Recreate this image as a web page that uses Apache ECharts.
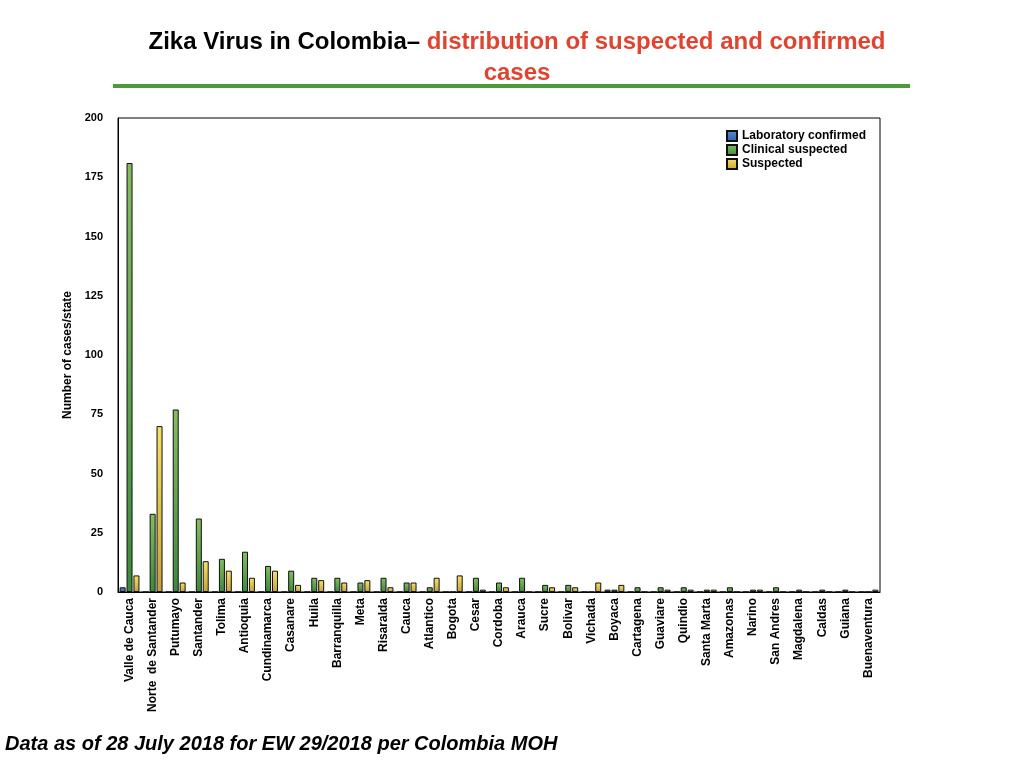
<!DOCTYPE html>
<html>
<head>
<meta charset="utf-8">
<script src="https://cdn.jsdelivr.net/npm/echarts@6/dist/echarts.min.js"></script>
<style>html,body{margin:0;padding:0;background:#fff;}#c{width:1024px;height:768px;}</style>
</head>
<body>
<div id="c"></div>
<script>
const categories = ['Valle de Cauca','Norte  de Santander','Putumayo','Santander','Tolima','Antioquia','Cundinamarca','Casanare','Huila','Barranquilla','Meta','Risaralda','Cauca','Atlantico','Bogota','Cesar','Cordoba','Arauca','Sucre','Bolivar','Vichada','Boyaca','Cartagena','Guaviare','Quindio','Santa Marta','Amazonas','Narino','San Andres','Magdalena','Caldas','Guiana','Buenaventura'];
const labConfirmed = [2,0,0,0,0,0,0,0,0,0,0,0,0,0,0,0,0,0,0,0,0,1,0,0,0,0,0,0,0,0,0,0,0];
const clinicalSuspected = [181,33,77,31,14,17,11,9,6,6,4,6,4,2,0,6,4,6,3,3,0,1,2,2,2,1,2,1,2,1,1,1,0];
const suspected = [7,70,4,13,9,6,9,3,5,4,5,2,4,6,7,1,2,0,2,2,4,3,0,1,1,1,0,1,0,0,0,0,1];
const yTicks = {min:0, max:200, interval:25};

const grad = (top, bottom) => new echarts.graphic.LinearGradient(0,0,0,1,[{offset:0,color:top},{offset:1,color:bottom}]);
const font = '"Liberation Sans", Arial, Helvetica, sans-serif';

const chart = echarts.init(document.getElementById('c'));
const mk = (name, data, top, bottom) => ({
  name, type:'bar', data, barWidth:6, barGap:'15%',
  itemStyle:{color:grad(top,bottom), borderColor:'#111', borderWidth:1},
  emphasis:{disabled:true}
});
chart.setOption({
  animation:false,
  textStyle:{fontFamily:font},
  title:{
    left:512, top:22, textAlign:'center',
    text:'{a|Zika Virus in Colombia– }{b|distribution of suspected and confirmed}\n{b|cases}',
    textStyle:{
      lineHeight:31,
      rich:{
        a:{fontFamily:font, fontWeight:'bold', fontSize:24, color:'#000', lineHeight:31},
        b:{fontFamily:font, fontWeight:'bold', fontSize:24, color:'#e0442e', lineHeight:31}
      }
    }
  },
  graphic:[
    {type:'line', shape:{x1:113,y1:86,x2:910,y2:86}, style:{stroke:'#4c9a3c', lineWidth:4}},
    {type:'text', left:5, top:734, style:{text:'Data as of 28 July 2018 for EW 29/2018 per Colombia MOH', font:'italic bold 20px "Liberation Sans", Arial, sans-serif', fill:'#000'}}
  ],
  legend:{
    orient:'vertical', left:721, top:125, itemWidth:10, itemHeight:10, itemGap:2,
    icon:'rect',
    textStyle:{fontWeight:'bold', fontSize:12, color:'#000', fontFamily:font},
    data:['Laboratory confirmed','Clinical suspected','Suspected']
  },
  grid:{left:118, right:144, top:118, bottom:176, show:true, borderColor:'#000', borderWidth:1, containLabel:false},
  xAxis:{
    type:'category', data:categories,
    axisLine:{lineStyle:{color:'#000', width:1}},
    axisTick:{show:false},
    axisLabel:{interval:0, rotate:90, fontSize:12, fontWeight:'bold', color:'#000', margin:6}
  },
  yAxis:{
    type:'value', min:yTicks.min, max:yTicks.max, interval:yTicks.interval,
    name:'Number of cases/state', nameLocation:'middle', nameGap:36,
    nameTextStyle:{fontSize:12, fontWeight:'bold', color:'#000'},
    axisLine:{show:true, lineStyle:{color:'#000'}},
    axisTick:{show:false},
    splitLine:{show:false},
    axisLabel:{fontSize:11, fontWeight:'bold', color:'#000', margin:15}
  },
  series:[
    mk('Laboratory confirmed', labConfirmed, '#5a8fd8', '#2f5fa8'),
    mk('Clinical suspected', clinicalSuspected, '#86bd5e', '#3b8a3b'),
    mk('Suspected', suspected, '#f6e364', '#c6a23a')
  ]
});
</script>
</body>
</html>
